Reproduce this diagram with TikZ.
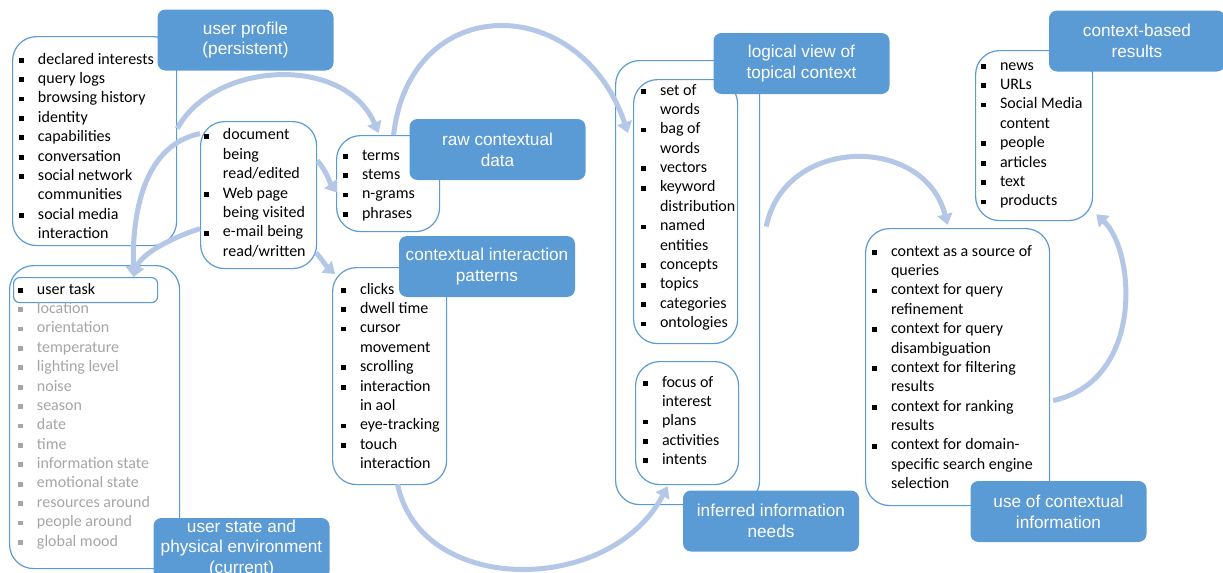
\documentclass[tikz,border=0pt]{standalone}
\usepackage{fontspec}
\setmainfont{Carlito}
\newfontfamily\arialfont{Liberation Sans}
\usetikzlibrary{arrows.meta,calc}

\definecolor{titleblue}{RGB}{91,155,213}
\definecolor{frameblue}{RGB}{91,155,213}
\definecolor{flowblue}{RGB}{180,199,231}
\definecolor{dimtext}{RGB}{166,166,166}

\newcommand{\sq}{\rule[0.7pt]{2.4pt}{2.4pt}}
\newcommand{\gsq}{\textcolor{dimtext}{\sq}}
\newcommand{\itemlist}[1]{\begin{tabular}[t]{@{}l@{\hspace{6.9pt}}l@{}}#1\end{tabular}}

\tikzset{
  frame/.style={draw=frameblue, line width=0.6pt, fill=white, rounded corners=12pt,
    inner sep=0pt, anchor=north west},
  items/.style={anchor=base west, inner sep=0pt, font=\fontsize{8}{9.7}\selectfont},
  title/.style={fill=titleblue, rounded corners=4pt, text=white, align=center,
    inner sep=0pt, minimum width=88pt, minimum height=30.5pt,
    font=\arialfont\fontsize{8.6}{10.4}\selectfont},
  flow/.style={draw=flowblue, line width=2.5pt, -{Triangle[width=7.5pt,length=5.5pt]}},
}

\begin{document}
\begin{tikzpicture}[x=0.5pt, y=-0.5pt]
  \useasboundingbox (0,0) rectangle (1223,573);
  \clip (0,0) rectangle (1223,573);

  % frames
  \node[frame, minimum width=82pt, minimum height=104.5pt] (profbox) at (12,36) {};
  \node[frame, minimum width=58pt, minimum height=73.5pt] (docbox) at (200,121) {};
  \node[frame, minimum width=51.5pt, minimum height=48pt] (rawbox) at (336,135) {};
  \node[frame, minimum width=57pt, minimum height=108.5pt] (intbox) at (332,267) {};
  \node[frame, minimum width=85pt, minimum height=151.5pt] (statebox) at (9,265) {};
  \node[frame, rounded corners=3pt, minimum width=72pt, minimum height=12.5pt] (taskbox) at (13,277) {};
  \node[frame, minimum width=72pt, minimum height=222pt] (logbox) at (615,60) {};
  \node[frame, minimum width=52pt, minimum height=132pt] (topicbox) at (633,79) {};
  \node[frame, minimum width=51.5pt, minimum height=61.5pt] (needbox) at (635,361) {};
  \node[frame, minimum width=92pt, minimum height=138.5pt] (usebox) at (865,228) {};
  \node[frame, minimum width=58.5pt, minimum height=85pt] (resbox) at (975,50) {};

  % lists
  \node[items] (proflist) at (19,64) {\itemlist{
    \sq & declared interests\\ \sq & query logs\\ \sq & browsing history\\
    \sq & identity\\ \sq & capabilities\\ \sq & conversation\\
    \sq & social network\\ & communities\\ \sq & social media\\ & interaction}};
  \node[items] (doclist) at (204,140) {\itemlist{
    \sq & document\\ & being\\ & read/edited\\ \sq & Web page\\ & being visited\\
    \sq & e-mail being\\ & read/written}};
  \node[items] (rawlist) at (343,160) {\itemlist{
    \sq & terms\\ \sq & stems\\ \sq & n-grams\\ \sq & phrases}};
  \node[items] (intlist) at (341,294) {\itemlist{
    \sq & clicks\\ \sq & dwell time\\ \sq & cursor\\ & movement\\ \sq & scrolling\\
    \sq & interaction\\ & in aol\\ \sq & eye-tracking\\ \sq & touch\\ & interaction}};
  \node[items] (statelist) at (18,294) {\itemlist{
    \sq & user task\\
    \gsq & \color{dimtext}location\\ \gsq & \color{dimtext}orientation\\
    \gsq & \color{dimtext}temperature\\ \gsq & \color{dimtext}lighting level\\
    \gsq & \color{dimtext}noise\\ \gsq & \color{dimtext}season\\
    \gsq & \color{dimtext}date\\ \gsq & \color{dimtext}time\\
    \gsq & \color{dimtext}information state\\ \gsq & \color{dimtext}emotional state\\
    \gsq & \color{dimtext}resources around\\ \gsq & \color{dimtext}people around\\
    \gsq & \color{dimtext}global mood}};
  \node[items] (topiclist) at (641,95) {\itemlist{
    \sq & set of\\ & words\\ \sq & bag of\\ & words\\ \sq & vectors\\
    \sq & keyword\\ & distribution\\ \sq & named\\ & entities\\
    \sq & concepts\\ \sq & topics\\ \sq & categories\\ \sq & ontologies}};
  \node[items] (needlist) at (643,387) {\itemlist{
    \sq & focus of\\ & interest\\ \sq & plans\\ \sq & activities\\ \sq & intents}};
  \node[items] (uselist) at (872,256) {\itemlist{
    \sq & context as a source of\\ & queries\\
    \sq & context for query\\ & refinement\\
    \sq & context for query\\ & disambiguation\\
    \sq & context for filtering\\ & results\\
    \sq & context for ranking\\ & results\\
    \sq & context for domain-\\ & specific search engine\\ & selection}};
  \node[items] (reslist) at (981,70) {\itemlist{
    \sq & news\\ \sq & URLs\\ \sq & Social Media\\ & content\\
    \sq & people\\ \sq & articles\\ \sq & text\\ \sq & products}};

  % flows
  \draw[flow] ($(profbox.east)+(0,-12.5)$) .. controls (215,60) and (345,55) .. ($(rawbox.north)+(-9.5,-2)$);
  \draw[flow] ($(rawbox.north)+(5.5,0)$) .. controls (410,-9) and (580,-9) .. ($(topicbox.north west)+(-5,54)$);
  \draw[flow] ($(docbox.east)+(0,-34.5)$) .. controls (326,170) and (330,183) .. ($(rawbox.west)+(1,9)$);
  \draw[flow] ($(docbox.east)+(-1,57.5)$) .. controls (322,260) and (328,268) .. ($(intbox.north west)+(3,7)$);
  \draw[flow] ($(docbox.west)+(0,-61.5)$) .. controls (145,145) and (132,210) .. ($(taskbox.north)+(48,0)$);
  \draw[flow] ($(docbox.west)+(0,33.5)$) .. controls (165,240) and (140,256) .. ($(taskbox.north)+(48,0)$);
  \draw[flow] ($(intbox.south)+(8,-1)$) .. controls (420,596) and (610,596) .. ($(needbox.south)+(-19.5,1)$);
  \draw[flow] ($(logbox.east)+(6,-56)$) .. controls (785,135) and (925,135) .. ($(usebox.north)+(-10,-3)$);
  \draw[flow] ($(usebox.east)+(3,33.5)$) .. controls (1145,380) and (1135,250) .. ($(resbox.south east)+(3,-7)$);

  % titles
  \node[title] (proftitle) at (245.5,40) {user profile\\(persistent)};
  \node[title] (rawtitle) at (497.5,149.5) {raw contextual\\data};
  \node[title] (inttitle) at (487,266.5) {contextual interaction\\patterns};
  \node[title] (statetitle) at (241.5,548.5) {user state and\\physical environment\\(current)};
  \node[title] (logtitle) at (801.5,63.5) {logical view of\\topical context};
  \node[title] (inftitle) at (771,521) {inferred information\\needs};
  \node[title] (usetitle) at (1058.5,511.5) {use of contextual\\information};
  \node[title] (restitle) at (1137,41) {context-based\\results};
\end{tikzpicture}
\end{document}
